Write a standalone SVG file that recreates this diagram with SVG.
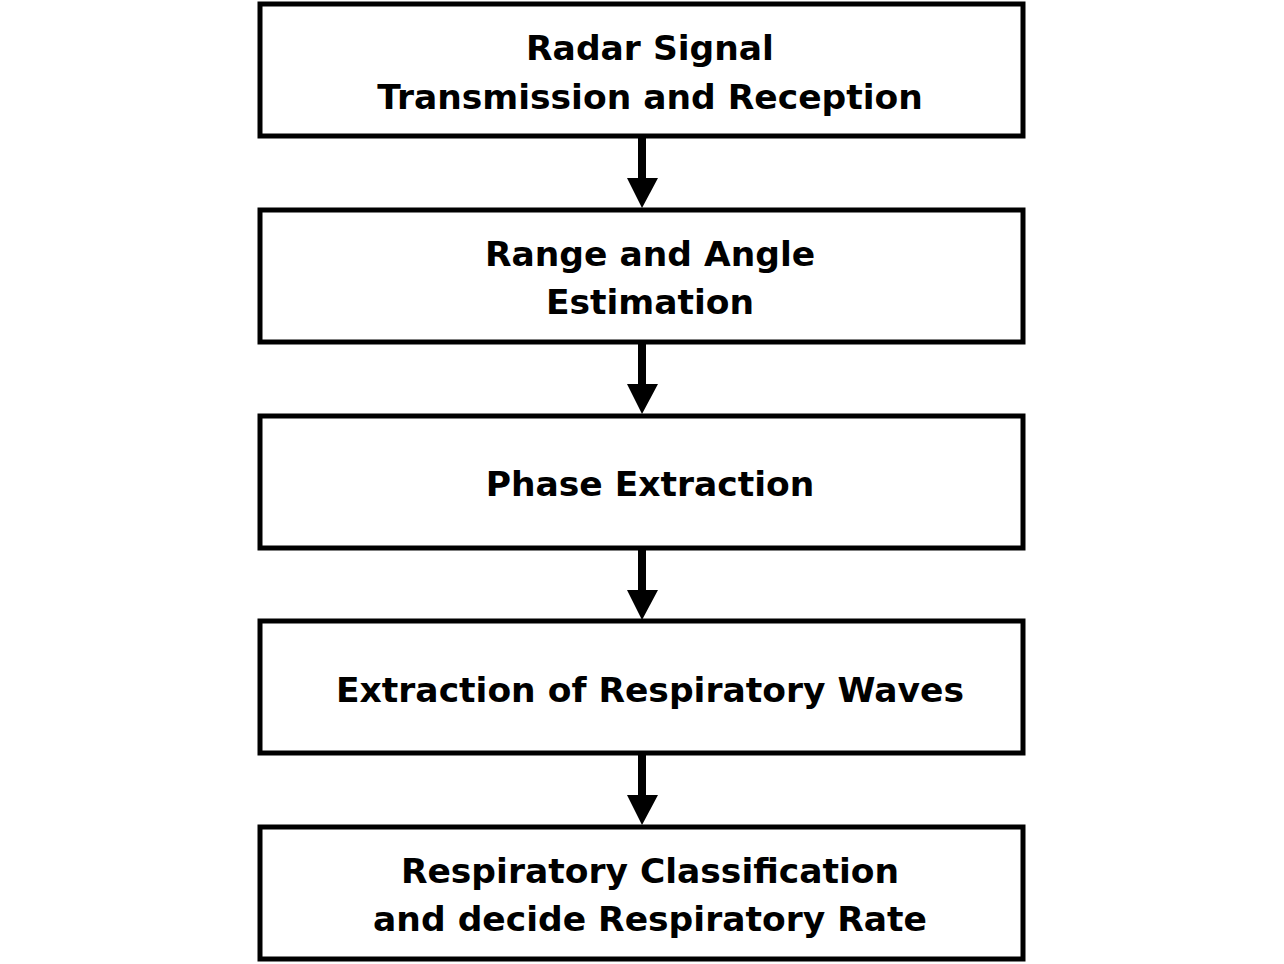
<svg xmlns="http://www.w3.org/2000/svg" width="1284" height="964" viewBox="0 0 1284 964">
<style>
.box{fill:#fff;stroke:#000;stroke-width:5}
.t{font-family:"DejaVu Sans","Liberation Sans",sans-serif;font-weight:bold;font-size:34.5px;text-anchor:middle;fill:#000}
.sh{stroke:#000;stroke-width:8}
</style>
<rect width="1284" height="964" fill="#fff"/>
<g id="n1"><rect class="box" x="260" y="4" width="763" height="132"/><text class="t" x="650" y="60">Radar Signal</text><text class="t" x="650" y="109">Transmission and Reception</text></g>
<g id="n2"><rect class="box" x="260" y="210" width="763" height="132"/><text class="t" x="650" y="266">Range and Angle</text><text class="t" x="650" y="314">Estimation</text></g>
<g id="n3"><rect class="box" x="260" y="416" width="763" height="132"/><text class="t" x="650" y="496">Phase Extraction</text></g>
<g id="n4"><rect class="box" x="260" y="621" width="763" height="132"/><text class="t" x="650" y="702">Extraction of Respiratory Waves</text></g>
<g id="n5"><rect class="box" x="260" y="827" width="763" height="132"/><text class="t" x="650" y="883">Respiratory Classification</text><text class="t" x="650" y="931">and decide Respiratory Rate</text></g>
<g id="connectors">
<line class="sh" x1="642" y1="138" x2="642" y2="180"/><polygon points="627,178 658,178 642,208"/>
<line class="sh" x1="642" y1="344" x2="642" y2="386"/><polygon points="627,384 658,384 642,414"/>
<line class="sh" x1="642" y1="550" x2="642" y2="592"/><polygon points="627,590 658,590 642,620"/>
<line class="sh" x1="642" y1="755" x2="642" y2="797"/><polygon points="627,795 658,795 642,825"/>
</g>
</svg>
